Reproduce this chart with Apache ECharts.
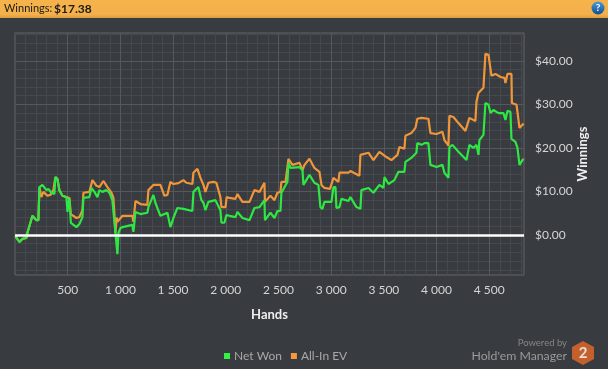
<!DOCTYPE html>
<html><head><meta charset="utf-8">
<script src="https://cdn.jsdelivr.net/npm/echarts@6/dist/echarts.min.js"></script>
<style>html,body{margin:0;padding:0;background:#383b3f}#c{width:608px;height:369px}</style>
</head><body><div id="c"></div>
<script>
const netWon=[[4,-0.3],[42,-1.6],[70,-0.9],[108,-0.7],[118,0.5],[146,2.8],[165,4.4],[203,3.4],[222,3.4],[232,11.0],[260,11.5],[298,10.3],[317,10.6],[345,9.7],[374,9.4],[383,13.3],[402,12.9],[421,10.3],[450,9.0],[488,8.7],[498,5.3],[516,8.5],[530,2.8],[545,2.8],[583,1.8],[611,2.5],[640,4.1],[649,8.5],[706,8.7],[725,10.8],[754,9.9],[782,8.7],[801,10.3],[829,9.9],[867,10.3],[896,9.7],[924,8.0],[953,0.5],[965,0.5],[972,-4.4],[982,0.5],[1001,1.6],[1020,1.8],[1114,2.3],[1124,0.7],[1143,5.3],[1190,4.8],[1256,5.1],[1266,6.4],[1313,9.2],[1332,7.4],[1380,4.4],[1446,5.1],[1475,1.8],[1503,3.9],[1541,6.2],[1598,6.0],[1683,5.5],[1693,9.9],[1740,11.0],[1769,8.0],[1788,7.4],[1807,5.7],[1835,7.6],[1902,8.0],[1949,5.7],[1959,2.8],[1987,2.8],[2006,4.6],[2035,4.4],[2092,4.1],[2111,5.3],[2158,3.9],[2225,3.4],[2272,6.2],[2320,6.4],[2367,8.0],[2372,3.4],[2424,5.1],[2462,3.9],[2490,5.5],[2519,5.5],[2528,9.7],[2585,12.2],[2595,16.6],[2614,15.4],[2699,15.6],[2728,14.9],[2737,11.5],[2794,13.8],[2841,12.0],[2879,11.5],[2898,6.4],[2917,6.0],[2936,7.6],[3003,7.6],[3022,11.0],[3041,11.0],[3050,6.2],[3079,6.4],[3098,8.3],[3164,7.8],[3183,8.7],[3240,6.4],[3278,6.0],[3287,10.3],[3354,10.8],[3401,9.7],[3458,11.5],[3496,10.8],[3506,13.3],[3544,11.7],[3600,12.6],[3638,14.5],[3695,14.5],[3705,16.8],[3761,17.7],[3809,18.9],[3818,21.1],[3857,20.7],[3885,21.1],[3923,21.1],[3942,16.1],[4000,15.6],[4056,16.1],[4075,14.3],[4113,13.1],[4122,20.2],[4151,20.7],[4208,19.1],[4284,17.2],[4312,20.7],[4350,20.0],[4379,20.7],[4398,18.4],[4407,21.8],[4445,23.0],[4464,30.3],[4493,29.9],[4512,28.0],[4540,28.7],[4588,28.0],[4635,28.0],[4654,26.4],[4673,28.5],[4701,28.3],[4711,22.1],[4749,21.4],[4768,20.0],[4787,16.1],[4815,17.2],[4825,17.4]];
const allInEV=[[4,-0.3],[42,-1.6],[70,-0.9],[108,-0.7],[118,0.5],[146,2.8],[165,4.4],[203,3.4],[222,3.4],[232,11.0],[250,8.7],[270,9.9],[307,9.0],[336,9.2],[364,10.3],[383,13.3],[402,12.9],[421,10.3],[450,9.0],[488,8.7],[496,8.5],[516,8.5],[530,4.8],[545,4.8],[583,3.9],[611,4.1],[640,5.7],[649,9.7],[706,9.9],[735,12.6],[773,11.3],[801,11.0],[838,12.4],[877,11.0],[915,9.7],[934,8.5],[944,4.6],[953,0.5],[965,4.0],[972,3.0],[1020,4.4],[1114,4.4],[1124,3.0],[1143,7.8],[1190,7.1],[1256,6.9],[1266,10.3],[1313,11.5],[1380,11.5],[1418,9.0],[1446,9.2],[1475,12.2],[1503,11.7],[1551,11.9],[1598,12.6],[1626,12.0],[1683,11.7],[1693,14.3],[1731,15.2],[1760,13.1],[1788,11.5],[1807,9.9],[1835,12.0],[1883,12.2],[1911,12.0],[1949,8.7],[1959,6.4],[1998,6.4],[2008,8.7],[2035,8.5],[2092,8.3],[2111,9.4],[2158,7.6],[2225,7.6],[2272,10.3],[2320,9.9],[2367,12.0],[2372,7.6],[2424,9.0],[2462,8.0],[2490,9.7],[2519,9.9],[2528,12.2],[2567,12.2],[2595,17.5],[2633,16.1],[2699,16.6],[2728,14.9],[2747,16.1],[2794,17.5],[2841,15.4],[2889,14.5],[2908,11.5],[2936,10.8],[2989,10.6],[3003,11.0],[3022,13.1],[3069,12.2],[3079,14.3],[3164,14.3],[3183,14.7],[3268,13.6],[3278,18.4],[3354,18.9],[3401,17.2],[3458,19.1],[3525,17.9],[3572,17.2],[3629,18.4],[3648,20.2],[3695,19.8],[3705,22.8],[3761,23.4],[3800,24.6],[3818,26.7],[3857,26.9],[3923,26.7],[3942,23.4],[4000,23.2],[4056,23.7],[4075,21.8],[4113,20.5],[4122,27.4],[4160,27.1],[4208,25.7],[4274,23.9],[4312,26.9],[4369,26.2],[4379,30.6],[4398,32.6],[4445,33.8],[4464,41.6],[4493,41.4],[4521,36.6],[4559,37.0],[4607,36.3],[4645,36.1],[4654,34.9],[4673,37.0],[4711,37.0],[4715,30.3],[4759,29.9],[4768,28.3],[4787,24.6],[4815,25.3],[4825,25.5]];
const xMajor=[500,1000,1500,2000,2500,3000,3500,4000,4500];
const xMinor=[100,200,300,400,600,700,800,900,1100,1200,1300,1400,1600,1700,1800,1900,2100,2200,2300,2400,2600,2700,2800,2900,3100,3200,3300,3400,3600,3700,3800,3900,4100,4200,4300,4400,4600,4700,4800];
const yMajor=[0,10,20,30,40];
const yMinor=[-8,-6,-4,-2,2,4,6,8,12,14,16,18,22,24,26,28,32,34,36,38,42,44,46];
const xMin=0,xMax=4830,yMin=-9.2,yMax=46.4;
const FONT='Lato,"Open Sans",sans-serif';
const LAB='#d6d6d6',MAJ='#55585c',MIN='#45484c';
const endDot=last=>({silent:true,symbol:'circle',symbolSize:2,itemStyle:{color:'#ff3b30'},label:{show:false},data:[{coord:last}]});
const chart=echarts.init(document.getElementById('c'),null,{renderer:'canvas'});
chart.setOption({
 animation:false,backgroundColor:'#383b3f',
 grid:{left:15,top:33,width:509,height:242,show:true,borderColor:'#64676a',borderWidth:1,backgroundColor:'transparent'},
 legend:{data:['Net Won','All-In EV'],left:219,top:345,icon:'rect',itemWidth:6,itemHeight:6,itemGap:9,
  textStyle:{color:'#a8a8a8',fontSize:12,fontFamily:FONT,padding:[0,0,0,-1]},selectedMode:false},
 xAxis:[
  {type:'value',min:xMin,max:xMax,name:'Hands',nameLocation:'middle',nameGap:33,nameMoveOverlap:false,
   nameTextStyle:{color:'#eeeeee',fontWeight:'bold',fontSize:13,fontFamily:FONT},
   axisLine:{show:false},
   axisTick:{show:true,length:7,lineStyle:{color:MAJ},customValues:xMajor},
   axisLabel:{color:LAB,fontSize:12,fontFamily:FONT,margin:9,customValues:xMajor,
     formatter:v=>v>=1000?Math.floor(v/1000)+' '+String(v%1000).padStart(3,'0'):String(v)},
   splitLine:{show:true,lineStyle:{color:MAJ,width:1}},z:3},
  {type:'value',min:xMin,max:xMax,position:'bottom',axisLine:{show:false},
   axisTick:{show:true,length:4,lineStyle:{color:MIN},customValues:xMinor},
   axisLabel:{show:false,customValues:xMinor},splitLine:{show:true,lineStyle:{color:MIN,width:1}},z:2}
 ],
 yAxis:[
  {type:'value',min:yMin,max:yMax,position:'right',name:'Winnings',nameLocation:'middle',nameGap:52,nameRotate:90,nameMoveOverlap:false,
   nameTextStyle:{color:'#eeeeee',fontWeight:'bold',fontSize:13,fontFamily:FONT},
   axisLine:{show:false},
   axisTick:{show:true,length:9,lineStyle:{color:MAJ},customValues:yMajor},
   axisLabel:{color:LAB,fontSize:12,fontFamily:FONT,margin:11,customValues:yMajor,formatter:v=>'$'+v.toFixed(2)},
   splitLine:{show:true,lineStyle:{color:MAJ,width:1}},z:3},
  {type:'value',min:yMin,max:yMax,position:'right',axisLine:{show:false},
   axisTick:{show:true,length:4,lineStyle:{color:MIN},customValues:yMinor},
   axisLabel:{show:false,customValues:yMinor},splitLine:{show:true,lineStyle:{color:MIN,width:1}},z:2}
 ],
 series:[
  {name:'All-In EV',type:'line',data:allInEV,showSymbol:false,symbol:'none',itemStyle:{color:'#f59a3a'},lineStyle:{color:'#f0963a',width:2.2},z:5,
   markPoint:endDot(allInEV[allInEV.length-1])},
  {name:'Net Won',type:'line',data:netWon,showSymbol:false,symbol:'none',itemStyle:{color:'#33f044'},lineStyle:{color:'#2ee644',width:2.2},z:6,
   markPoint:endDot(netWon[netWon.length-1]),
   markLine:{silent:true,symbol:'none',label:{show:false},lineStyle:{color:'#ffffff',width:2.5,type:'solid'},data:[{yAxis:0}],z:7}}
 ],
 graphic:[
  {type:'rect',shape:{x:0,y:0,width:608,height:18},style:{fill:new echarts.graphic.LinearGradient(0,0,0,1,[{offset:0,color:'#f6b34c'},{offset:.8,color:'#f4b04a'},{offset:1,color:'#d99c42'}])},z:10},
  {type:'text',x:4,y:3,style:{text:'Winnings:',fill:'#1a1a1a',fontSize:11,fontFamily:FONT},z:11},
  {type:'text',x:54,y:3,style:{text:'$17.38',fill:'#1a1a1a',fontSize:12,fontWeight:'bold',fontFamily:FONT},z:11},
  {type:'circle',shape:{cx:598,cy:8,r:6.5},style:{fill:new echarts.graphic.LinearGradient(0,0,0,1,[{offset:0,color:'#4a9ad8'},{offset:1,color:'#0f4f94'}])},z:11},
  {type:'text',x:598,y:8,style:{text:'?',fill:'#ffffff',fontSize:10,fontWeight:'bold',fontFamily:FONT,align:'center',verticalAlign:'middle'},z:12},
  {type:'text',x:567,y:343,style:{text:'Powered by',fill:'#858585',fontSize:9.5,fontFamily:FONT,align:'right',verticalAlign:'middle'},z:11},
  {type:'text',x:567,y:356,style:{text:"Hold'em Manager",fill:'#9a9a9a',fontSize:12.3,fontFamily:FONT,align:'right',verticalAlign:'middle'},z:11},
  {type:'polygon',shape:{points:[[583,341],[594,347],[594,359],[583,365],[572,359],[572,347]]},style:{fill:'#c4602c'},z:11},
  {type:'text',x:583,y:353,style:{text:'2',fill:'#e8e0d8',fontSize:15,fontWeight:'bold',fontFamily:FONT,align:'center',verticalAlign:'middle'},z:12}
 ]
});
</script></body></html>
